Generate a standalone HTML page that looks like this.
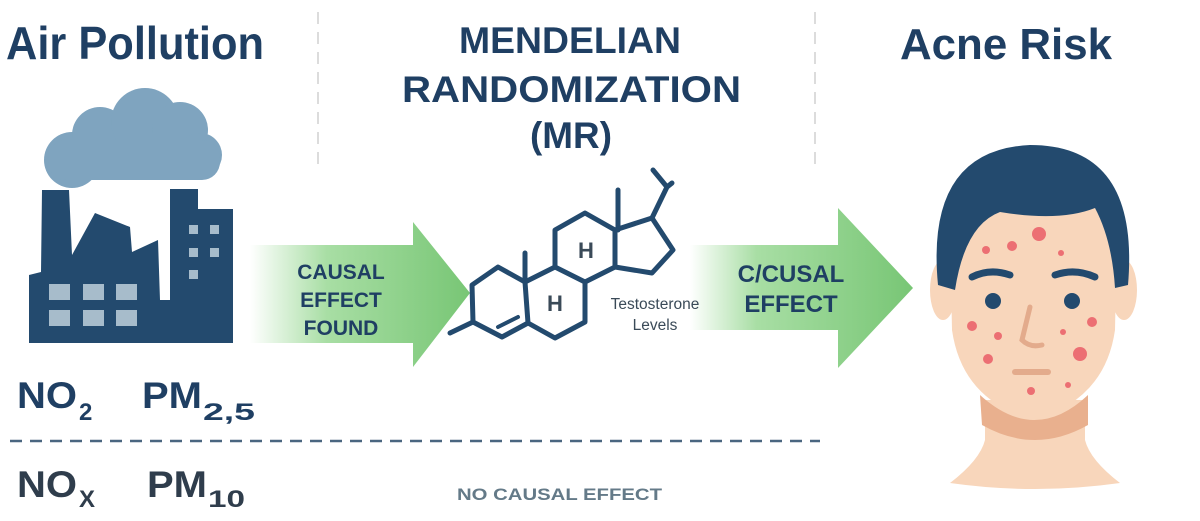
<!DOCTYPE html>
<html><head><meta charset="utf-8"><style>
html,body{margin:0;padding:0;background:#fff;}
svg{display:block;font-family:"Liberation Sans",sans-serif;}
</style></head><body>
<svg width="1200" height="521" viewBox="0 0 1200 521" xmlns="http://www.w3.org/2000/svg">
<defs>
<linearGradient id="g1" x1="0" x2="1"><stop offset="0" stop-color="#fff"/><stop offset="0.35" stop-color="#a8dea4"/><stop offset="1" stop-color="#78c675"/></linearGradient>
<linearGradient id="g2" x1="0" x2="1"><stop offset="0" stop-color="#fff"/><stop offset="0.3" stop-color="#a8dea4"/><stop offset="1" stop-color="#78c675"/></linearGradient>
</defs>
<rect width="1200" height="521" fill="#fff"/>
<line x1="318" y1="12" x2="318" y2="165" stroke="#dcdcdc" stroke-width="2" stroke-dasharray="12 8"/>
<line x1="815" y1="12" x2="815" y2="165" stroke="#dcdcdc" stroke-width="2" stroke-dasharray="12 8"/>
<g fill="#1f3f63" font-weight="bold">
<text x="6" y="59" font-size="46" textLength="258" lengthAdjust="spacingAndGlyphs">Air Pollution</text>
<text x="459" y="53" font-size="37" textLength="222" lengthAdjust="spacingAndGlyphs">MENDELIAN</text>
<text x="402" y="102" font-size="37" textLength="339" lengthAdjust="spacingAndGlyphs">RANDOMIZATION</text>
<text x="530" y="148" font-size="37" textLength="82" lengthAdjust="spacingAndGlyphs">(MR)</text>
<text x="900" y="59" font-size="44" textLength="212" lengthAdjust="spacingAndGlyphs">Acne Risk</text>
</g>
<g fill="#7fa4bf">
<circle cx="72" cy="160" r="28"/><circle cx="100" cy="135" r="28"/><circle cx="145" cy="122" r="34"/><circle cx="180" cy="130" r="28"/><circle cx="200" cy="155" r="22"/>
<rect x="48" y="140" width="172" height="40" rx="18"/>
</g>
<path fill="#234a6e" d="M29 343 L29 275 L41 272 L42 190 L69 190 L72 255 L95 213 L130 227 L132 252 L158 240 L160 300 L170 300 L170 189 L198 189 L198 209 L233 209 L233 343 Z"/>
<g fill="#a7bccb">
<rect x="49" y="284" width="21" height="16"/><rect x="83" y="284" width="21" height="16"/><rect x="116" y="284" width="21" height="16"/>
<rect x="49" y="310" width="21" height="16"/><rect x="83" y="310" width="21" height="16"/><rect x="116" y="310" width="21" height="16"/>
<rect x="189" y="225" width="9" height="9"/><rect x="210" y="225" width="9" height="9"/>
<rect x="189" y="248" width="9" height="9"/><rect x="210" y="248" width="9" height="9"/>
<rect x="189" y="270" width="9" height="9"/>
</g>
<path fill="url(#g1)" d="M250 245 L413 245 L413 222 L470 293 L413 367 L413 343 L250 343 Z"/>
<g fill="#1f3f63" font-weight="bold" font-size="21" text-anchor="middle">
<text x="341" y="279">CAUSAL</text><text x="341" y="307">EFFECT</text><text x="341" y="335">FOUND</text>
</g>
<path fill="url(#g2)" d="M690 245 L838 245 L838 208 L913 288 L838 368 L838 330 L690 330 Z"/>
<g fill="#1f3f63" font-weight="bold" font-size="24" text-anchor="middle">
<text x="791" y="282">C/CUSAL</text><text x="791" y="312">EFFECT</text>
</g>
<g fill="none" stroke="#234a6e" stroke-width="5" stroke-linejoin="round" stroke-linecap="round">
<path d="M472 285 L498 267 L525 282 L528 323 L502 337 L473 322 Z"/>
<path d="M525 282 L555 267 L585 282 L585 322 L555 338 L528 323"/>
<path d="M555 267 L555 230 L585 213 L615 230 L615 267 L585 282"/>
<path d="M615 230 L652 218 L673 250 L652 273 L615 267"/>
<path d="M525 282 L525 253"/>
<path d="M618 230 L618 190"/>
<path d="M652 218 L667 187 L653 170 M667 187 L672 183"/>
<path d="M473 322 L450 333"/>
<path d="M498 327 L518 317" stroke-width="4"/>
</g>
<g fill="#3a4a58" font-weight="bold" font-size="22" text-anchor="middle">
<text x="586" y="258">H</text><text x="555" y="311">H</text>
</g>
<g fill="#3a4a58" font-size="15.5" text-anchor="middle">
<text x="655" y="309">Testosterone</text><text x="655" y="330">Levels</text>
</g>
<g fill="#1f3f63" font-weight="bold">
<text x="17" y="408" font-size="37" textLength="60" lengthAdjust="spacingAndGlyphs">NO</text>
<text x="79" y="420" font-size="24">2</text>
<text x="142" y="408" font-size="37" textLength="60" lengthAdjust="spacingAndGlyphs">PM</text>
<text x="203" y="420" font-size="24" textLength="52" lengthAdjust="spacingAndGlyphs">2,5</text>
</g>
<line x1="10" y1="441" x2="820" y2="441" stroke="#4a6680" stroke-width="2.5" stroke-dasharray="12 8"/>
<g fill="#2f3d4c" font-weight="bold">
<text x="17" y="497" font-size="37" textLength="60" lengthAdjust="spacingAndGlyphs">NO</text>
<text x="79" y="507" font-size="24">X</text>
<text x="147" y="497" font-size="37" textLength="60" lengthAdjust="spacingAndGlyphs">PM</text>
<text x="208" y="507" font-size="24" textLength="37" lengthAdjust="spacingAndGlyphs">10</text>
</g>
<text x="457" y="500" font-size="17" font-weight="bold" fill="#647a88" textLength="205" lengthAdjust="spacingAndGlyphs">NO CAUSAL EFFECT</text>
<path fill="#f8d6bb" d="M950 483 Q980 460 985 440 L985 400 L1085 400 L1085 440 Q1090 460 1120 483 Q1035 495 950 483 Z"/>
<path fill="#e9b08e" d="M980 395 Q1035 445 1088 395 L1088 425 Q1035 455 982 425 Z"/>
<ellipse cx="943" cy="290" rx="13" ry="30" fill="#f8d6bb"/>
<ellipse cx="1124" cy="290" rx="13" ry="30" fill="#f8d6bb"/>
<path fill="#f8d6bb" d="M950 230 Q950 180 1033 175 Q1118 180 1117 230 L1115 330 Q1105 400 1033 420 Q962 400 952 330 Z"/>
<path fill="#234a6e" d="M938 285 Q925 150 1030 145 Q1140 145 1128 285 L1115 288 Q1112 240 1095 208 Q1060 222 1000 212 Q965 225 955 290 Z"/>
<g fill="none" stroke="#234a6e" stroke-width="7" stroke-linecap="round">
<path d="M972 277 Q990 268 1010 275"/><path d="M1055 275 Q1075 268 1095 277"/>
</g>
<circle cx="993" cy="301" r="8" fill="#234a6e"/><circle cx="1072" cy="301" r="8" fill="#234a6e"/>
<path d="M1030 307 L1022 340 Q1030 348 1042 345" fill="none" stroke="#e3ab8c" stroke-width="5" stroke-linecap="round"/>
<path d="M1015 372 L1048 372" stroke="#e3ab8c" stroke-width="6" stroke-linecap="round"/>
<g fill="#ec6f73">
<circle cx="1039" cy="234" r="7"/><circle cx="986" cy="250" r="4"/><circle cx="1012" cy="246" r="5"/><circle cx="1061" cy="253" r="3"/>
<circle cx="972" cy="326" r="5"/><circle cx="998" cy="336" r="4"/><circle cx="988" cy="359" r="5"/>
<circle cx="1092" cy="322" r="5"/><circle cx="1063" cy="332" r="3"/><circle cx="1080" cy="354" r="7"/>
<circle cx="1031" cy="391" r="4"/><circle cx="1068" cy="385" r="3"/>
</g>
</svg>
</body></html>
